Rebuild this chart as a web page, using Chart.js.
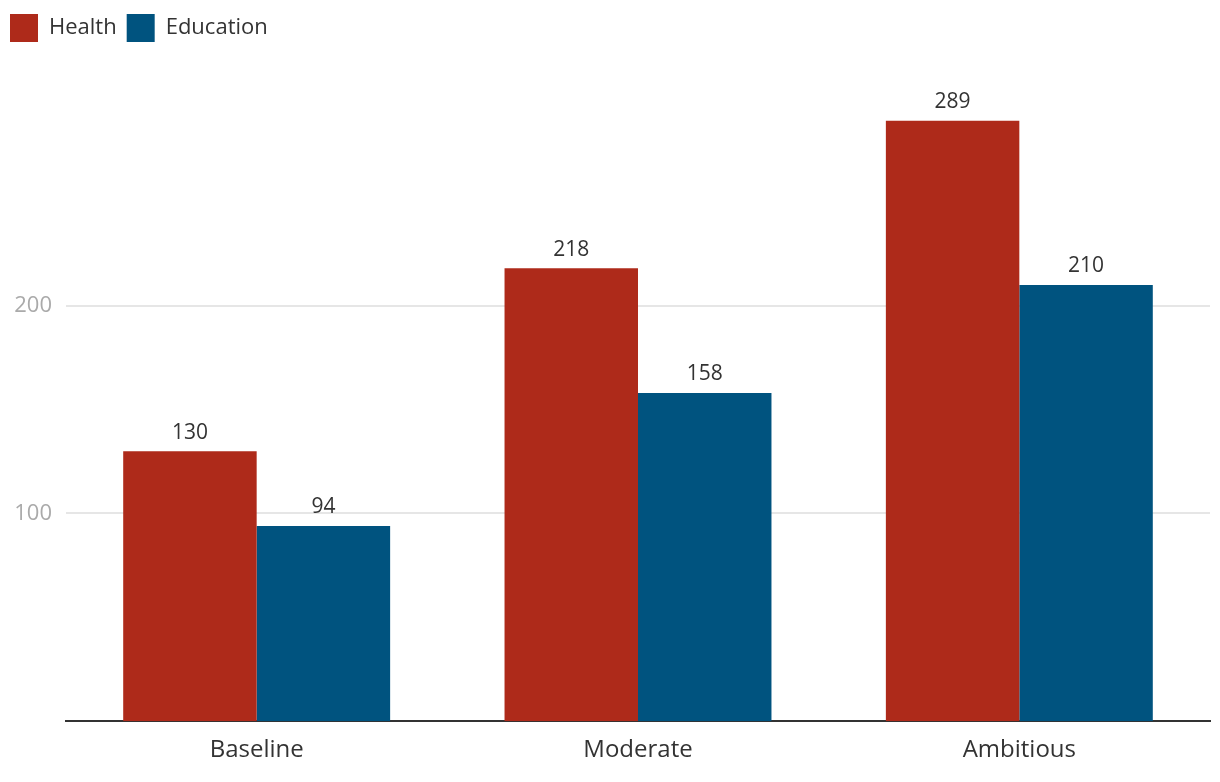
<!DOCTYPE html>
<html>
<head>
<meta charset="utf-8">
<script src="https://cdn.jsdelivr.net/npm/chart.js@4"></script>
<style>
    html, body { margin: 0; padding: 0; background: #fff; }
    #wrap { width: 1220px; height: 782px; }
</style>
</head>
<body>
<div id="wrap"><canvas id="chartCanvasId"></canvas></div>
<script>
"use strict";

const scenarios = ["Baseline", "Moderate", "Ambitious"];
const healthValues = [130, 218, 289];
const educationValues = [94, 158, 210];
const yTickValues = [100, 200];

const fontFamily = "'Open Sans', sans-serif";

// draws the value above each bar
const barValueLabels = {
    id: "barValueLabels",
    afterDatasetsDraw(chart) {
        const ctx = chart.ctx;
        ctx.save();
        ctx.font = "21px " + fontFamily;
        ctx.fillStyle = "#333";
        ctx.textAlign = "center";
        ctx.textBaseline = "bottom";
        chart.data.datasets.forEach((ds, i) => {
            chart.getDatasetMeta(i).data.forEach((bar, j) => {
                ctx.fillText(String(ds.data[j]), bar.x, bar.y - 8);
            });
        });
        ctx.restore();
    }
};

// extra room under the legend
const legendSpacing = {
    id: "legendSpacing",
    beforeInit(chart) {
        const originalFit = chart.legend.fit;
        chart.legend.fit = function fit() {
            originalFit.bind(chart.legend)();
            this.height += 46;
        };
    }
};

const chartContext = document.getElementById("chartCanvasId").getContext("2d");

const myChart = new Chart(chartContext, {
    type: "bar",
    data: {
        labels: scenarios,
        datasets: [{
            label: "Health",
            data: healthValues,
            backgroundColor: "#ae2a1a",
            categoryPercentage: 0.7,
            barPercentage: 1,
        }, {
            label: "Education",
            data: educationValues,
            backgroundColor: "#00537f",
            categoryPercentage: 0.7,
            barPercentage: 1,
        }],
    },
    plugins: [barValueLabels, legendSpacing],
    options: {
        responsive: true,
        maintainAspectRatio: false,
        animation: false,
        layout: {
            padding: { left: 0, right: 10, top: 4, bottom: 10 },
        },
        plugins: {
            legend: {
                position: "top",
                align: "start",
                labels: {
                    boxWidth: 28,
                    boxHeight: 28,
                    padding: 10,
                    color: "#333",
                    font: { family: fontFamily, size: 22 },
                },
            },
            tooltip: { enabled: false },
        },
        scales: {
            x: {
                grid: { display: false },
                border: { color: "#333", width: 2 },
                ticks: {
                    color: "#333",
                    padding: 7,
                    font: { family: fontFamily, size: 24 },
                },
            },
            y: {
                min: 0,
                max: 300,
                afterBuildTicks(axis) {
                    axis.ticks = yTickValues.map(v => ({ value: v }));
                },
                afterFit(axis) {
                    axis.width = 66;
                },
                grid: { color: "#e6e6e6", lineWidth: 2, drawTicks: false },
                border: { display: false },
                ticks: {
                    color: "#aaa",
                    padding: 14,
                    font: { family: fontFamily, size: 22 },
                },
            },
        },
    },
});
</script>
</body>
</html>
